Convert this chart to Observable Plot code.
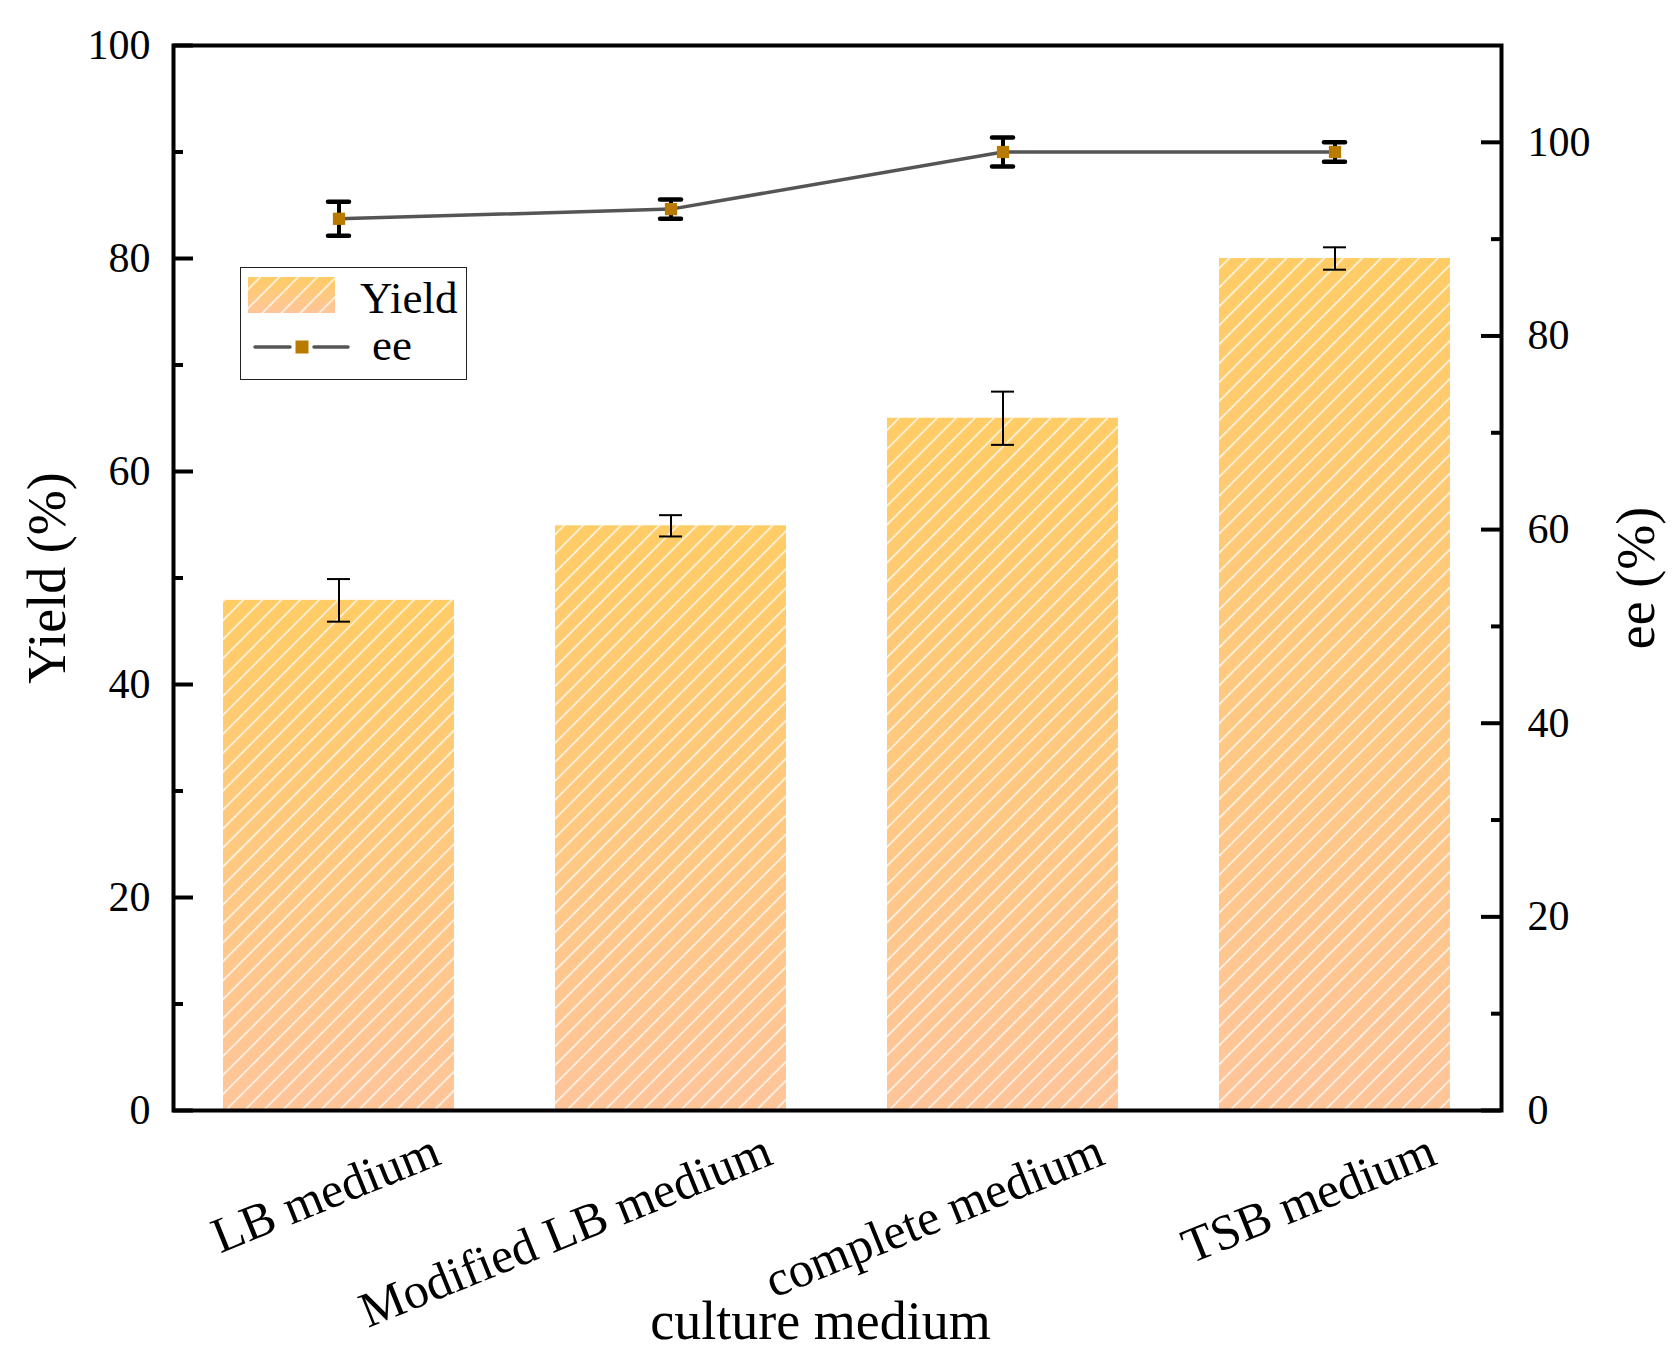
<!DOCTYPE html>
<html>
<head>
<meta charset="utf-8">
<script src="https://cdn.jsdelivr.net/npm/d3@7"></script>
<script src="https://cdn.jsdelivr.net/npm/@observablehq/plot@0.6"></script>
<style>
  body { margin: 0; background: #fff; }
  #wrap { position: relative; width: 1677px; height: 1364px; font-family: "Liberation Serif", "Times New Roman", serif; }
  #legend { position: absolute; left: 240px; top: 267px; width: 227px; height: 113px; border: 1.5px solid #222; box-sizing: border-box; background: #fff; }
  #legend svg { display: block; }
</style>
</head>
<body>
<div id="wrap">
  <div id="chart"></div>
  <div id="legend"></div>
</div>
<script>
// data
const categories = ["LB medium", "Modified LB medium", "complete medium", "TSB medium"];
const yieldVals = [47.9, 54.9, 65.0, 80.0];
const yieldErr = [2.0, 1.0, 2.5, 1.05];
const eeVals = [92.1, 93.1, 99.0, 99.0];
const eeErr = [1.75, 1.0, 1.5, 1.0];

const yMajor = [0, 20, 40, 60, 80, 100];
const yMinor = [10, 30, 50, 70, 90];
const eeMajor = [0, 20, 40, 60, 80, 100];
const eeMinor = [10, 30, 50, 70, 90];

const barTop = "#FFCC66";
const barBottom = "#FFC59A";
const markerColor = "#B97A00";
const lineColor = "#555555";

// right axis runs 0..110, left 0..100
const k = 100 / 110;

const rows = categories.map((c, i) => ({
  cat: c,
  yld: yieldVals[i],
  yErr: yieldErr[i],
  ee: eeVals[i],
  eeErr: eeErr[i]
}));

const W = 1677, H = 1364;
const mL = 173, mR = 176, mT = 45, mB = 254;
const plotW = W - mL - mR;

const chart = Plot.plot({
  width: W,
  height: H,
  marginLeft: mL,
  marginRight: mR,
  marginTop: mT,
  marginBottom: mB,
  style: {
    fontFamily: '"Liberation Serif", "Times New Roman", serif',
    fontSize: "42px",
    color: "#000",
    background: "#fff"
  },
  x: { domain: categories, paddingInner: 0.304, paddingOuter: 0.152 },
  y: { domain: [0, 100] },
  marks: [
    Plot.barY(rows, { x: "cat", y: "yld", fill: "url(#barGrad)" }),
    Plot.barY(rows, { x: "cat", y: "yld", fill: "url(#hatch)" }),

    // yield error bars
    Plot.ruleX(rows, { x: "cat", y1: d => d.yld - d.yErr, y2: d => d.yld + d.yErr, stroke: "#000", strokeWidth: 2 }),
    Plot.tickY(rows, { x: "cat", y: d => d.yld + d.yErr, insetLeft: 104, insetRight: 104, stroke: "#000", strokeWidth: 2 }),
    Plot.tickY(rows, { x: "cat", y: d => d.yld - d.yErr, insetLeft: 104, insetRight: 104, stroke: "#000", strokeWidth: 2 }),

    // ee series on the right axis
    Plot.line(rows, { x: "cat", y: d => d.ee * k, stroke: lineColor, strokeWidth: 3.5 }),
    Plot.ruleX(rows, { x: "cat", y1: d => (d.ee - d.eeErr) * k, y2: d => (d.ee + d.eeErr) * k, stroke: "#000", strokeWidth: 4 }),
    Plot.tickY(rows, { x: "cat", y: d => (d.ee + d.eeErr) * k, insetLeft: 105, insetRight: 105, stroke: "#000", strokeWidth: 4.5, strokeLinecap: "round" }),
    Plot.tickY(rows, { x: "cat", y: d => (d.ee - d.eeErr) * k, insetLeft: 105, insetRight: 105, stroke: "#000", strokeWidth: 4.5, strokeLinecap: "round" }),
    Plot.dot(rows, { x: "cat", y: d => d.ee * k, symbol: "square", r: 6.9, fill: markerColor }),

    Plot.frame({ stroke: "#000", strokeWidth: 4 }),

    // inward ticks
    Plot.tickY(yMajor, { y: d => d, insetRight: plotW - 20, stroke: "#000", strokeWidth: 4 }),
    Plot.tickY(yMinor, { y: d => d, insetRight: plotW - 10, stroke: "#000", strokeWidth: 4 }),
    Plot.tickY(eeMajor, { y: d => d * k, insetLeft: plotW - 20, stroke: "#000", strokeWidth: 4 }),
    Plot.tickY(eeMinor, { y: d => d * k, insetLeft: plotW - 10, stroke: "#000", strokeWidth: 4 }),

    Plot.axisY(yMajor, { anchor: "left", tickSize: 0, tickPadding: 23, fontSize: 42, label: null }),
    Plot.axisY(eeMajor.map(v => v * k), { anchor: "right", tickSize: 0, tickPadding: 26, fontSize: 42, label: null, tickFormat: d => Math.round(d / k) }),
    Plot.axisX({ anchor: "bottom", tickSize: 0, tickPadding: 0, tickRotate: -22, textAnchor: "end", lineAnchor: "bottom", dx: 104, dy: 53, fontSize: 50, label: null }),

    // axis titles
    Plot.text(["culture medium"], { text: d => d, frameAnchor: "bottom", dx: -17, dy: 228, lineAnchor: "bottom", fontSize: 54 }),
    Plot.text(["Yield (%)"], { text: d => d, frameAnchor: "left", dx: -126, rotate: -90, textAnchor: "middle", lineAnchor: "middle", fontSize: 54 }),
    Plot.text(["ee (%)"], { text: d => d, frameAnchor: "right", dx: 135, rotate: -90, textAnchor: "middle", lineAnchor: "middle", fontSize: 54 })
  ]
});

function addFills(svg, gradId, hatchId) {
  const defs = svg.insert("defs", ":first-child");
  const g = defs.append("linearGradient").attr("id", gradId)
    .attr("x1", 0).attr("y1", 0).attr("x2", 0).attr("y2", 1);
  g.append("stop").attr("offset", "0%").attr("stop-color", barTop);
  g.append("stop").attr("offset", "100%").attr("stop-color", barBottom);
  const p = defs.append("pattern").attr("id", hatchId)
    .attr("patternUnits", "userSpaceOnUse")
    .attr("width", 13.4).attr("height", 13.4)
    .attr("patternTransform", "rotate(45)");
  p.append("line").attr("x1", 6.7).attr("y1", 0).attr("x2", 6.7).attr("y2", 13.4)
    .attr("stroke", "#fff").attr("stroke-width", 1.5).attr("stroke-opacity", 0.9);
}

addFills(d3.select(chart), "barGrad", "hatch");
d3.select("#chart").append(() => chart);

// legend inside the plot area
const lg = d3.select("#legend").append("svg").attr("width", 224).attr("height", 110);
addFills(lg, "lgGrad", "lgHatch");
lg.append("rect").attr("x", 7).attr("y", 9).attr("width", 87).attr("height", 36).attr("fill", "url(#lgGrad)");
lg.append("rect").attr("x", 7).attr("y", 9).attr("width", 87).attr("height", 36).attr("fill", "url(#lgHatch)");
lg.append("text").attr("x", 119).attr("y", 45).attr("font-size", 45).text("Yield");
lg.append("line").attr("x1", 14).attr("x2", 49).attr("y1", 79).attr("y2", 79)
  .attr("stroke", lineColor).attr("stroke-width", 3.5).attr("stroke-linecap", "round");
lg.append("line").attr("x1", 73).attr("x2", 107).attr("y1", 79).attr("y2", 79)
  .attr("stroke", lineColor).attr("stroke-width", 3.5).attr("stroke-linecap", "round");
lg.append("rect").attr("x", 54.5).attr("y", 72.5).attr("width", 13).attr("height", 13).attr("fill", markerColor);
lg.append("text").attr("x", 131).attr("y", 92).attr("font-size", 45).text("ee");
</script>
</body>
</html>
